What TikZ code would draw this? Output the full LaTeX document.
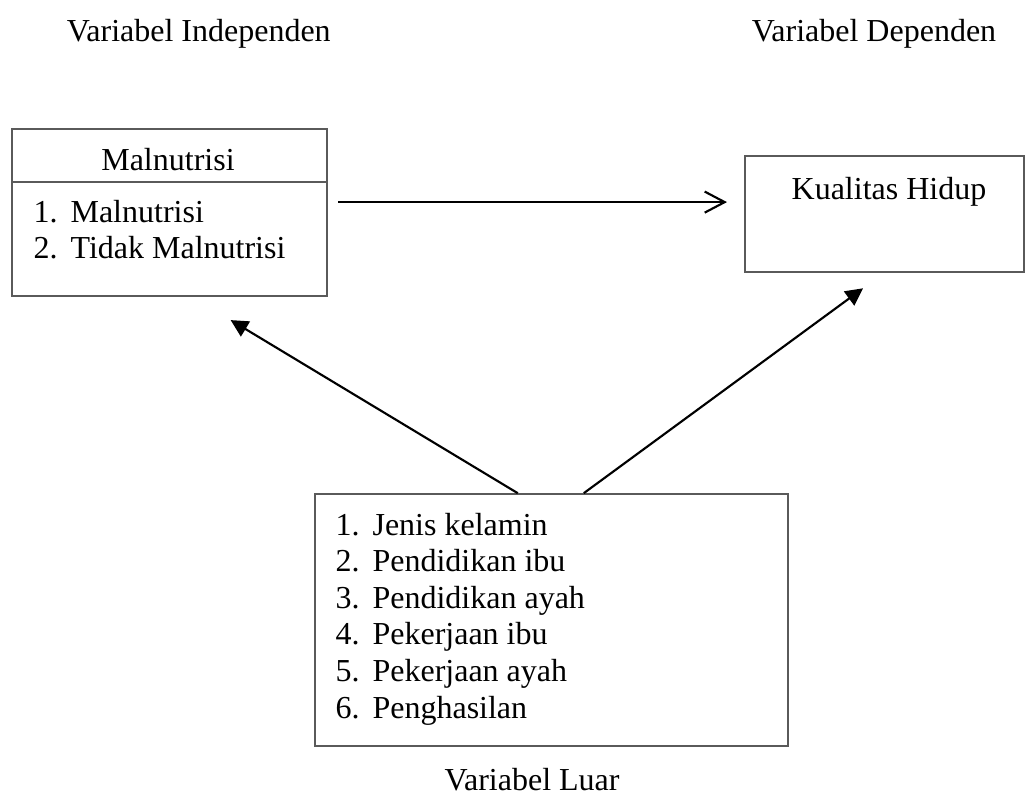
\documentclass[tikz,border=0pt]{standalone}
\usepackage{fontspec}
\setmainfont{Liberation Serif}
\usepackage{xcolor}
\usepackage{tikz}
\usetikzlibrary{arrows.meta}
\definecolor{VBoxLine}{HTML}{5A5A5A}
\definecolor{VArrow}{HTML}{000000}

\begin{document}
\begin{tikzpicture}[x=1cm,y=1cm,
  every node/.style={font=\fontsize{12}{14}\selectfont,inner sep=0pt},
  vbox/.style={draw=VBoxLine,line width=0.75pt,anchor=south west},
  openarr/.style={VArrow,line width=0.8pt,-{Straight Barb[length=7.5pt,width=7.9pt]}},
  fillarr/.style={VArrow,line width=0.8pt,-{Triangle[length=6.5pt,width=6.5pt]}}]
\path[use as bounding box] (0,0) rectangle (13.51,10.48);
% headings
\node[anchor=base] (indep) at (2.62,9.93) {Variabel Independen};
\node[anchor=base] (dep) at (11.52,9.93) {Variabel Dependen};
% independent variable box
\node[vbox,minimum width=4.15cm,minimum height=2.20cm] (mal) at (0.145,6.564) {};
\draw[VBoxLine,line width=0.75pt] (mal.west |- 0,8.079) -- (mal.east |- 0,8.079);
\node[anchor=base] (maltitle) at (2.214,8.238) {Malnutrisi};
\node[anchor=base west] (mal1) at (0.435,7.552) {\makebox[13.9pt][l]{1.}Malnutrisi};
\node[anchor=base west] (mal2) at (0.435,7.078) {\makebox[13.9pt][l]{2.}Tidak Malnutrisi};
% dependent variable box
\node[vbox,minimum width=3.68cm,minimum height=1.53cm] (kh) at (9.806,6.880) {};
\node[anchor=base] (khtext) at (11.717,7.855) {Kualitas Hidup};
% outside variables box
\node[vbox,minimum width=6.234cm,minimum height=3.32cm] (luar) at (4.139,0.633) {};
\node[anchor=base west] (luar1) at (4.415,3.427) {\makebox[13.9pt][l]{1.}Jenis kelamin};
\node[anchor=base west] (luar2) at (4.415,2.944) {\makebox[13.9pt][l]{2.}Pendidikan ibu};
\node[anchor=base west] (luar3) at (4.415,2.462) {\makebox[13.9pt][l]{3.}Pendidikan ayah};
\node[anchor=base west] (luar4) at (4.415,1.980) {\makebox[13.9pt][l]{4.}Pekerjaan ibu};
\node[anchor=base west] (luar5) at (4.415,1.497) {\makebox[13.9pt][l]{5.}Pekerjaan ayah};
\node[anchor=base west] (luar6) at (4.415,1.015) {\makebox[13.9pt][l]{6.}Penghasilan};
\node[anchor=base] (luarlabel) at (7.012,0.066) {Variabel Luar};
% arrows
\coordinate (hStart) at (4.455,7.816);
\coordinate (hEnd) at (9.582,7.816);
\coordinate (tipMal) at (3.040,6.261);
\coordinate (tipKh) at (11.375,6.680);
\draw[openarr] (hStart) -- (hEnd);
\draw[fillarr] ([xshift=-0.445cm]luar.north) -- (tipMal);
\draw[fillarr] ([xshift=0.425cm]luar.north) -- (tipKh);
\end{tikzpicture}
\end{document}
